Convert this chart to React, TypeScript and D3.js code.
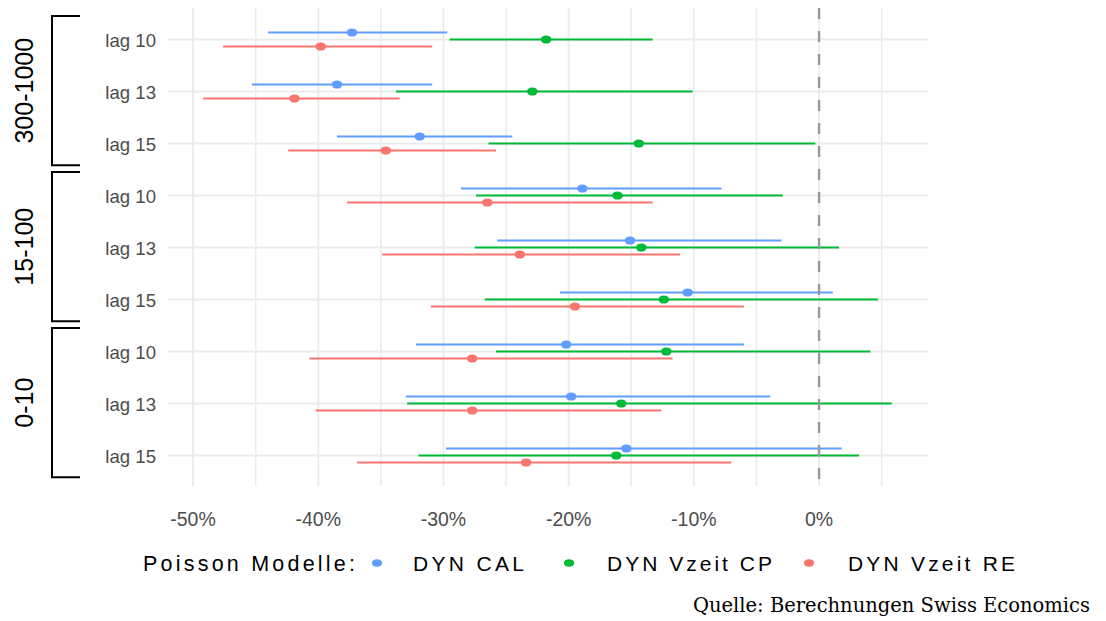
import React from 'react';
import * as d3 from 'd3';

// groups (bracket labels) and lags, top to bottom
const groups = ['300-1000', '15-100', '0-10'];
const lags = ['lag 10', 'lag 13', 'lag 15'];
const seriesNames = ['DYN CAL', 'DYN Vzeit CP', 'DYN Vzeit RE'];
const seriesColors = ['#619CFF', '#00BA38', '#F8766D'];

// values in %, rows: 300-1000 lag10/13/15, 15-100 lag10/13/15, 0-10 lag10/13/15
const calEst = [-37.3, -38.5, -31.9, -18.9, -15.1, -10.5, -20.2, -19.8, -15.4];
const calLo = [-44.0, -45.3, -38.5, -28.6, -25.7, -20.7, -32.2, -33.0, -29.8];
const calHi = [-29.7, -30.9, -24.5, -7.8, -3.0, 1.1, -6.0, -3.9, 1.8];

const cpEst = [-21.8, -22.9, -14.4, -16.1, -14.2, -12.4, -12.2, -15.8, -16.2];
const cpLo = [-29.5, -33.8, -26.4, -27.4, -27.5, -26.7, -25.8, -32.9, -32.0];
const cpHi = [-13.3, -10.1, -0.3, -2.9, 1.6, 4.7, 4.1, 5.8, 3.2];

const reEst = [-39.8, -41.9, -34.6, -26.5, -23.9, -19.5, -27.7, -27.7, -23.4];
const reLo = [-47.6, -49.2, -42.4, -37.7, -34.9, -31.0, -40.7, -40.2, -36.9];
const reHi = [-30.9, -33.5, -25.8, -13.3, -11.1, -6.0, -11.7, -12.6, -7.0];

const majorTicks = [-50, -40, -30, -20, -10, 0];
const minorTicks = [-45, -35, -25, -15, -5, 5];

const W = 1106;
const H = 621;
const FONT = '"Liberation Sans", Arial, Helvetica, sans-serif';

export default function App() {
  const panel = { left: 168, right: 928, top: 8, bottom: 486 };

  const rows = groups.flatMap((g) => lags.map((l) => `${g}|${l}`));

  const x = d3.scaleLinear().domain([-52, 8.7]).range([panel.left, panel.right]);
  const y = d3.scalePoint<string>().domain(rows).range([39.5, 455.5]);
  const step = y.step();
  const dodge = d3
    .scalePoint<string>()
    .domain(seriesNames)
    .range([-step * 0.135, step * 0.135]);

  const series = [
    { name: seriesNames[0], est: calEst, lo: calLo, hi: calHi },
    { name: seriesNames[1], est: cpEst, lo: cpLo, hi: cpHi },
    { name: seriesNames[2], est: reEst, lo: reLo, hi: reHi },
  ];

  // legend layout
  const legendY = 571;
  const legendItems = [
    { dot: 377, tx: 413, tw: 111 },
    { dot: 569, tx: 607, tw: 165 },
    { dot: 809, tx: 848, tw: 167 },
  ];

  return (
    <svg
      width={W}
      height={H}
      style={{ position: 'absolute', left: 0, top: 0, background: '#ffffff' }}
    >
      {/* grid */}
      <g>
        {minorTicks.map((t) => (
          <line
            key={'mi' + t}
            x1={x(t)}
            x2={x(t)}
            y1={panel.top}
            y2={panel.bottom}
            stroke="#EBEBEB"
            strokeWidth={1.5}
          />
        ))}
        {majorTicks.map((t) => (
          <line
            key={'ma' + t}
            x1={x(t)}
            x2={x(t)}
            y1={panel.top}
            y2={panel.bottom}
            stroke="#EBEBEB"
            strokeWidth={1.8}
          />
        ))}
        {rows.map((r) => (
          <line
            key={'h' + r}
            x1={panel.left}
            x2={panel.right}
            y1={y(r)}
            y2={y(r)}
            stroke="#EBEBEB"
            strokeWidth={1.8}
          />
        ))}
      </g>

      {/* error bars */}
      {series.map((s, si) => (
        <g key={s.name}>
          {rows.map((r, i) => (
            <line
              key={r}
              x1={x(s.lo[i])}
              x2={x(s.hi[i])}
              y1={(y(r) as number) + (dodge(s.name) as number)}
              y2={(y(r) as number) + (dodge(s.name) as number)}
              stroke={seriesColors[si]}
              strokeWidth={2.2}
            />
          ))}
        </g>
      ))}

      {/* zero line */}
      <line
        x1={x(0)}
        x2={x(0)}
        y1={panel.top}
        y2={panel.bottom}
        stroke="#999999"
        strokeWidth={2.4}
        strokeDasharray="11 12"
      />

      {/* points */}
      {series.map((s, si) => (
        <g key={'p' + s.name}>
          {rows.map((r, i) => (
            <ellipse
              key={r}
              cx={x(s.est[i])}
              cy={(y(r) as number) + (dodge(s.name) as number)}
              rx={5.3}
              ry={4.1}
              fill={seriesColors[si]}
            />
          ))}
        </g>
      ))}

      {/* y labels */}
      {rows.map((r) => (
        <text
          key={'yl' + r}
          x={156}
          y={(y(r) as number) + 7}
          textAnchor="end"
          fontFamily={FONT}
          fontSize={18.6}
          fill="#4D4D4D"
        >
          {r.split('|')[1]}
        </text>
      ))}

      {/* x labels */}
      {majorTicks.map((t) => (
        <text
          key={'xl' + t}
          x={x(t)}
          y={526}
          textAnchor="middle"
          fontFamily={FONT}
          fontSize={19.5}
          fill="#4D4D4D"
        >
          {`${t}%`}
        </text>
      ))}

      {/* group brackets */}
      {groups.map((g) => {
        const first = y(`${g}|${lags[0]}`) as number;
        const last = y(`${g}|${lags[lags.length - 1]}`) as number;
        const top = first - step * 0.45;
        const bottom = last + step * 0.42;
        const mid = (top + bottom) / 2;
        return (
          <g key={'br' + g}>
            <path
              d={`M80,${top} H52 V${bottom} H80`}
              fill="none"
              stroke="#000000"
              strokeWidth={2}
            />
            <text
              transform={`translate(32.5,${mid}) rotate(-90)`}
              textAnchor="middle"
              fontFamily={FONT}
              fontSize={25}
              fill="#000000"
            >
              {g}
            </text>
          </g>
        );
      })}

      {/* legend */}
      <text
        x={143}
        y={legendY}
        fontFamily={FONT}
        fontSize={21.5}
        textLength={212}
        lengthAdjust="spacing"
        fill="#000000"
      >
        Poisson Modelle:
      </text>
      {seriesNames.map((n, i) => (
        <g key={'lg' + n}>
          <ellipse cx={legendItems[i].dot} cy={legendY - 8} rx={5.2} ry={3.8} fill={seriesColors[i]} />
          <text
            x={legendItems[i].tx}
            y={legendY}
            fontFamily={FONT}
            fontSize={21}
            textLength={legendItems[i].tw}
            lengthAdjust="spacing"
            fill="#000000"
          >
            {n}
          </text>
        </g>
      ))}

      {/* caption */}
      <text
        x={1090}
        y={612}
        textAnchor="end"
        fontFamily='"Palatino Linotype", "Book Antiqua", Palatino, "DejaVu Serif", "Liberation Serif", serif'
        fontSize={20}
        textLength={397}
        lengthAdjust="spacingAndGlyphs"
        fill="#000000"
      >
        Quelle: Berechnungen Swiss Economics
      </text>
    </svg>
  );
}
